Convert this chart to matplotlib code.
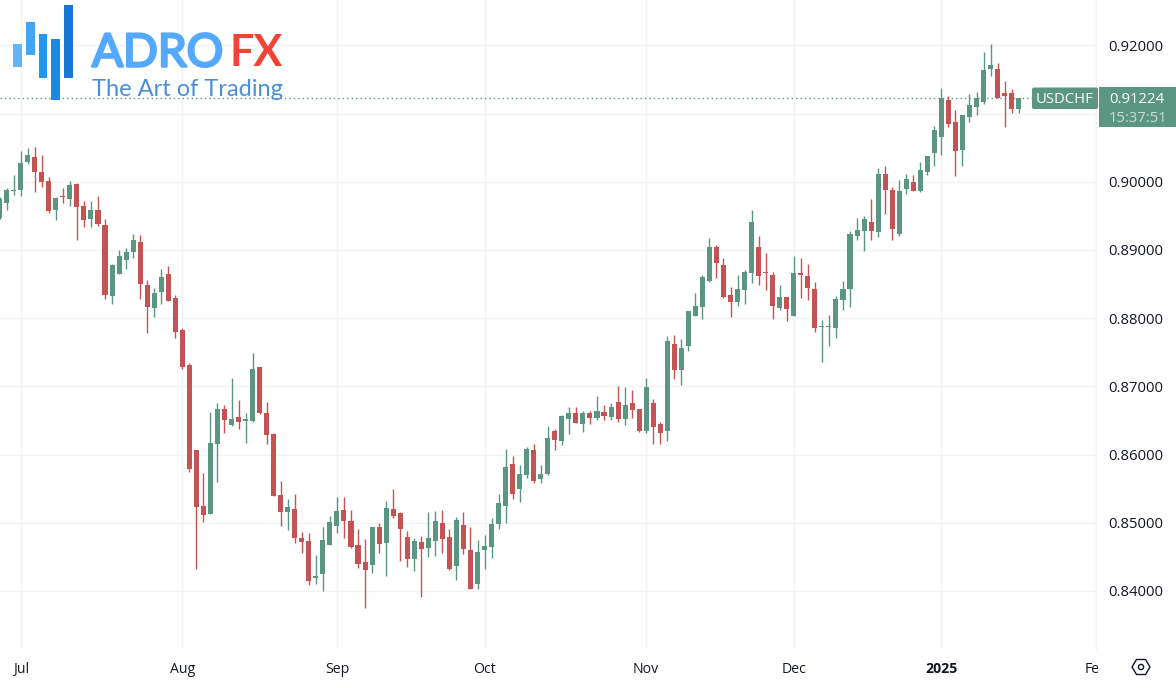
import matplotlib
matplotlib.use('Agg')
import matplotlib.pyplot as plt
import matplotlib.patheffects as pe
import numpy as np
from matplotlib.patches import Rectangle, FancyBboxPatch, Circle, Polygon
from matplotlib.transforms import Bbox

# Plot configuration:
W, H = 1176, 688
Color_up = '#5B9682'
Color_down = '#C65353'
Color_grid = '#F2F3F5'
Color_text = '#131722'
plt.rcParams['font.family'] = ['Open Sans', 'DejaVu Sans']

# Daily USDCHF candles
opens = [.89465, .89693, .89870, .89880, .90290, .90359, .90144, .90012, .89586, .89792,
         .89748, .89968, .89645, .89449, .89581, .89366, .88325, .88648, .88853, .88971,
         .89121, .88485, .88153, .88384, .88648, .88296, .87826, .87313, .86066, .85245,
         .85132, .86154, .86667, .86428, .86545, .86496, .86496, .87283, .86613, .86305,
         .85401, .85161, .85201, .84775, .84731, .84183, .84251, .84672, .84956, .85186,
         .85024, .84668, .84427, .84379, .84937, .84702, .85201, .85142, .84790, .84467,
         .84716, .84629, .84736, .84996, .84790, .84369, .84966, .84599, .84099, .84595,
         .84648, .84985, .85249, .85861, .85494, .85699, .86066, .85640, .85718, .86340,
         .86198, .86520, .86609, .86447, .86604, .86531, .86623, .86550, .86770, .86520,
         .86751, .86662, .86340, .86755, .86447, .86345, .87621, .87235, .87592, .88031,
         .88163, .88545, .89040, .88780, .88339, .88232, .88413, .88662, .89044, .88677,
         .88633, .88148, .88305, .88031, .88662, .88618, .88427, .87875, .87875, .87856,
         .88266, .88427, .89205, .89283, .89415, .89264, .90119, .89880, .89234, .89894,
         .89997, .89865, .90144, .90418, .90657, .91200, .90877, .90467, .90951, .91097,
         .91171, .91655, .91655, .91298, .91307, .91068]
highs = [.89782, .89905, .90100, .90452, .90500, .90511, .90393, .90066, .89777, .89909,
         .90012, .89987, .89714, .89714, .89796, .89454, .88794, .89000, .89029, .89234,
         .89220, .88559, .88442, .88717, .88765, .88344, .87856, .87338, .86066, .85724,
         .86627, .86751, .86721, .87122, .86804, .86613, .87489, .87283, .86774, .86315,
         .85612, .85343, .85421, .84863, .84849, .84526, .84937, .85102, .85377, .85377,
         .85186, .84912, .84760, .84937, .84996, .85318, .85494, .85157, .84878, .84775,
         .84804, .85157, .85171, .85186, .84907, .85079, .85157, .84937, .84746, .84819,
         .85073, .85425, .86081, .85978, .85846, .86110, .86154, .85846, .86418, .86370,
         .86579, .86697, .86697, .86638, .86638, .86858, .86721, .86751, .87005, .86990,
         .86942, .86662, .87122, .86809, .86476, .87738, .87748, .87689, .88100, .88364,
         .88633, .89176, .89073, .88878, .88452, .88633, .88706, .89582, .89205, .88956,
         .88672, .88486, .88310, .88908, .88883, .88799, .88530, .87973, .88046, .88325,
         .88545, .89278, .89469, .89498, .89748, .90203, .90232, .89928, .90027, .90115,
         .90100, .90286, .90379, .90819, .91376, .91259, .91054, .90980, .91288, .91318,
         .91904, .92022, .91743, .91474, .91361, .91224]
lows = [.89454, .89586, .89806, .89796, .90261, .89855, .89928, .89542, .89439, .89685,
        .89645, .89145, .89332, .89336, .89351, .88281, .88203, .88648, .88717, .88883,
        .88285, .87778, .88021, .88207, .88256, .87709, .87258, .85743, .84325, .85015,
        .85132, .85596, .86320, .86418, .86378, .86173, .86481, .86594, .86154, .85396,
        .84956, .84893, .84706, .84559, .84085, .84099, .84003, .84672, .84853, .84780,
        .84629, .84335, .83753, .84266, .84559, .84217, .85073, .84442, .84345, .84295,
        .83910, .84497, .84511, .84559, .84305, .84159, .84536, .84027, .84027, .84320,
        .84487, .84912, .84996, .85347, .85308, .85655, .85587, .85587, .85699, .86066,
        .86139, .86301, .86462, .86330, .86452, .86511, .86511, .86501, .86476, .86432,
        .86535, .86330, .86315, .86154, .86154, .86198, .87103, .87020, .87518, .88031,
        .87987, .88530, .88594, .88296, .88017, .88178, .88207, .88515, .88486, .88417,
        .87987, .88119, .87958, .88031, .88296, .88266, .87797, .87357, .87592, .87709,
        .88119, .88163, .89151, .88985, .89151, .89186, .89528, .89146, .89205, .89825,
        .89861, .89850, .90100, .90232, .90393, .90804, .90085, .90232, .90877, .90980,
        .91141, .91552, .91225, .90804, .91010, .91010]
closes = [.89743, .89880, .89880, .90280, .90393, .90144, .89997, .89567, .89767, .89782,
          .89958, .89635, .89439, .89581, .89380, .88339, .88784, .88908, .88971, .89146,
          .88500, .88159, .88364, .88609, .88256, .87797, .87288, .85791, .85234, .85113,
          .86164, .86667, .86510, .86520, .86481, .86520, .87258, .86604, .86286, .85396,
          .85161, .85230, .84775, .84721, .84148, .84217, .84746, .85010, .85171, .85024,
          .84639, .84393, .84305, .84937, .84692, .85215, .85102, .84912, .84467, .84726,
          .84614, .84775, .85024, .84756, .84320, .85039, .84614, .84027, .84565, .84658,
          .84981, .85289, .85817, .85425, .85718, .86081, .85616, .85718, .86242, .86213,
          .86565, .86604, .86467, .86609, .86531, .86638, .86565, .86692, .86520, .86726,
          .86652, .86340, .86990, .86408, .86315, .87665, .87235, .87558, .88100, .88178,
          .88604, .89044, .88809, .88310, .88232, .88423, .88677, .89410, .88618, .88662,
          .88178, .88305, .88129, .88662, .88637, .88442, .87856, .87885, .87885, .88281,
          .88423, .89234, .89293, .89450, .89278, .90115, .89880, .89308, .89865, .90041,
          .89861, .90173, .90379, .90760, .91229, .90848, .90452, .90980, .91127, .91229,
          .91640, .91714, .91225, .91259, .91068, .91224]

# Time and price scale
month_ticks = [3, 26, 48, 69, 92, 113, 134, 156]
month_labels = ['Jul', 'Aug', 'Sep', 'Oct', 'Nov', 'Dec', '2025', 'Feb']
price_ticks = [.84, .85, .86, .87, .88, .89, .90, .91, .92]
price_labels = ['0.84000', '0.85000', '0.86000', '0.87000', '0.88000', '0.89000', '0.90000', '', '0.92000']  # 0.91 sits under the price tag
last_price = 0.91224
symbol = 'USDCHF'
countdown = '15:37:51'

opens, highs, lows, closes = map(np.array, (opens, highs, lows, closes))
x = np.arange(len(opens))
rising = closes >= opens
colors = np.where(rising, Color_up, Color_down)

fig = plt.figure(figsize=(W/100, H/100), dpi=100, facecolor='white')
ax = fig.add_axes([0, (H-649)/H, 1096/W, 649/H])
ax.set_xlim(0.06, 156.0)
ax.set_ylim(0.83147, 0.92667)
ax.set_axisbelow(True)
ax.grid(True, color=Color_grid, lw=1.0)
for side in ['top', 'bottom', 'left']:
    ax.spines[side].set_visible(False)
ax.spines['right'].set_color(Color_grid)

# Candles:
ax.vlines(x, lows, highs, colors=colors, lw=1.0, zorder=2)
ax.bar(x, np.maximum(np.abs(closes-opens), 0.00012), bottom=np.minimum(opens, closes),
       width=0.72, color=colors, lw=0, zorder=3)
ax.axhline(last_price, color=Color_up, lw=1.0, ls=(0, (1, 2.2)), zorder=1)

# Axis labels:
ax.yaxis.tick_right()
ax.set_yticks(price_ticks)
ax.set_yticklabels(price_labels, fontsize=10.7, color=Color_text)
ax.tick_params(axis='y', length=0, pad=9)
ax.set_xticks(month_ticks)
ax.set_xticklabels(month_labels, fontsize=10.2, color=Color_text)
ax.tick_params(axis='x', length=0, pad=9.5)
for lab, name in zip(ax.get_xticklabels(), month_labels):
    if name == '2025':
        lab.set_fontweight('bold')
    if name == 'Feb':
        lab.set_clip_on(True)
        lab.set_clip_box(Bbox([[1000, 0], [1098, 60]]))

# Overlay in pixel coordinates for logo and price tags
ov = fig.add_axes([0, 0, 1, 1], facecolor='none')
ov.set_xlim(0, W)
ov.set_ylim(H, 0)
ov.axis('off')

# Logo:
for bx, by, bw, bh, c in [(13, 44, 8.7, 23, '#64B5F6'), (26, 22, 8.5, 33, '#42A5F5'),
                          (38.7, 34, 8.5, 44, '#2196F3'), (51, 39, 8.7, 61, '#1E88E5'),
                          (64, 5, 8.7, 73, '#1976D2')]:
    ov.add_patch(Rectangle((bx, by), bw, bh, color=c, lw=0))
ov.text(92, 66.5, 'ADRO', fontsize=33, family='Lato', color='#54A9FF', va='baseline', ha='left',
        path_effects=[pe.withStroke(linewidth=1.8, foreground='#54A9FF')])
ov.text(229.5, 66.5, 'FX', fontsize=31, family='Lato', fontweight='bold', color='#F44336', va='baseline', ha='left')
ov.text(92, 96.5, 'The Art of Trading', fontsize=17, family='Lato', color='#4A90D9', va='baseline', ha='left')

# Price tags:
ov.add_patch(FancyBboxPatch((1032, 87.5), 66, 21.5, boxstyle='round,pad=0,rounding_size=2', color=Color_up, lw=0))
ov.add_patch(Rectangle((1099, 87), 77, 40, color=Color_up, lw=0))
ov.text(1065, 99.5, symbol, fontsize=10.7, color='white', ha='center', va='center')
ov.text(1109, 99.5, f'{last_price:.5f}', fontsize=10.7, color='white', ha='left', va='center')
ov.text(1109, 118.5, countdown, fontsize=10.7, color='#C8DCD4', ha='left', va='center')

# Settings icon:
hx = [1132, 1136.5, 1145.5, 1150, 1145.5, 1136.5]
hy = [667, 659.5, 659.5, 667, 674.5, 674.5]
ov.add_patch(Polygon(list(zip(hx, hy)), closed=True, fill=False, ec=Color_text, lw=1.0))
ov.add_patch(Circle((1141, 667), 2.6, fill=False, ec=Color_text, lw=1.0))

fig.savefig('out.png', dpi=100)
